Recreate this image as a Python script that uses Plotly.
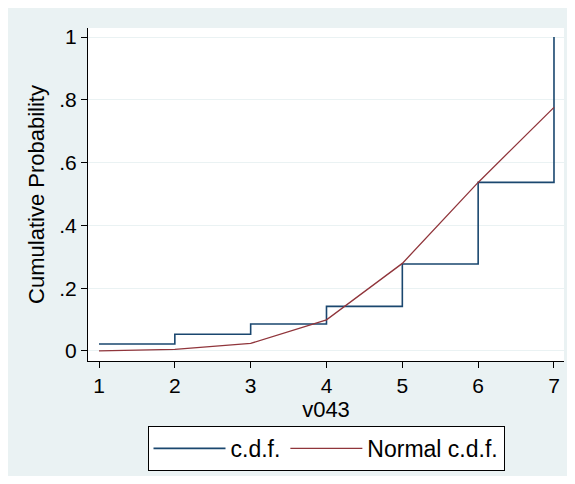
import plotly.graph_objects as go

# values
x_vals = [1, 2, 3, 4, 5, 6, 7]
cdf = [0.022, 0.053, 0.086, 0.142, 0.277, 0.537, 1.0]
normal_cdf = [0.0, 0.005, 0.024, 0.099, 0.279, 0.537, 0.776]
y_ticks = [0, 0.2, 0.4, 0.6, 0.8, 1]
y_ticktext = ['0', '.2', '.4', '.6', '.8', '1']

bg = '#EAF2F3'
font = 'Liberation Sans, Arial, sans-serif'

fig = go.Figure()
fig.add_trace(go.Scatter(x = x_vals, y = cdf, mode = 'lines', name = 'c.d.f.',
                         line = dict(color = '#1a476f', width = 1.6, shape = 'hv')))
fig.add_trace(go.Scatter(x = x_vals, y = normal_cdf, mode = 'lines', name = 'Normal c.d.f.',
                         line = dict(color = '#90353b', width = 1.3)))

fig.update_layout(width = 560, height = 468, paper_bgcolor = bg, plot_bgcolor = 'white',
                  margin = dict(l = 80, r = 4, t = 20, b = 115),
                  font = dict(family = font, size = 21, color = 'black'),
                  showlegend = True,
                  legend = dict(orientation = 'h', x = 0.5, xanchor = 'center', y = -0.195, yanchor = 'top',
                                bgcolor = 'white', bordercolor = 'black', borderwidth = 1,
                                font = dict(size = 23), itemwidth = 72))
fig.update_xaxes(range = [0.855, 7.132], tickvals = x_vals, showgrid = False, zeroline = False,
                 showline = True, linecolor = 'black', linewidth = 1,
                 ticks = 'outside', ticklen = 6, tickcolor = 'black',
                 title = dict(text = 'v043', font = dict(size = 22), standoff = 5))
fig.update_yaxes(range = [-0.032, 1.029], tickvals = y_ticks, ticktext = y_ticktext,
                 showgrid = True, gridcolor = bg, gridwidth = 1, zeroline = False,
                 showline = True, linecolor = 'black', linewidth = 1,
                 ticks = 'outside', ticklen = 6, tickcolor = 'black',
                 title = dict(text = 'Cumulative Probability', font = dict(size = 22), standoff = 8))

fig.write_html("out.html")
